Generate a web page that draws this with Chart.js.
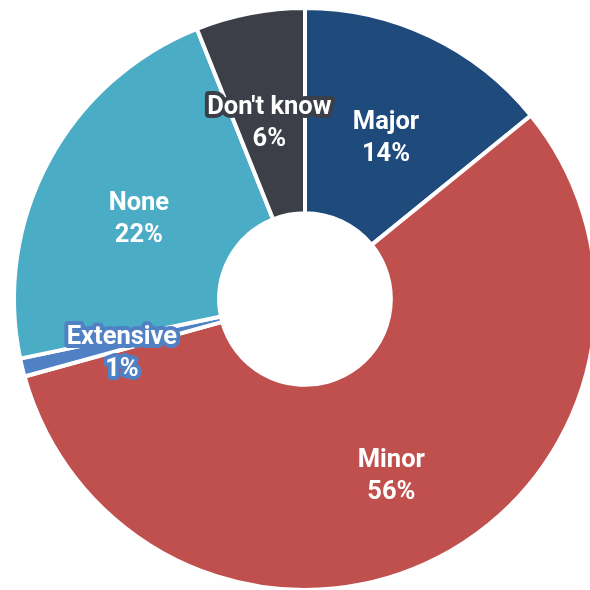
<!DOCTYPE html>
<html>
<head>
<meta charset="utf-8">
<script src="https://cdn.jsdelivr.net/npm/chart.js@4/dist/chart.umd.min.js"></script>
<style>
  html, body { margin: 0; padding: 0; background: #ffffff; overflow: hidden; width: 590px; height: 590px; }
  #wrap { position: absolute; left: 0; top: 0; width: 611px; height: 598px; }
</style>
</head>
<body>
<div id="wrap"><canvas id="chart" width="611" height="598"></canvas></div>
<script>
// Extent of damage, share of respondents (%)
const categories = ['Major', 'Minor', 'Extensive', 'None', "Don't know"];
const shares = [14, 56, 1, 22, 6];
const sliceColors = ['#1f4a7c', '#c0504d', '#4f81c4', '#4bacc6', '#3c3f48'];

// Two-line labels (name + percent) in white with an outline in the slice colour
const sliceLabels = {
  id: 'sliceLabels',
  afterDatasetsDraw(chart) {
    const ctx = chart.ctx;
    const meta = chart.getDatasetMeta(0);
    const ds = chart.data.datasets[0];
    ctx.save();
    ctx.font = 'bold 25.5px Roboto, "DejaVu Sans", sans-serif';
    ctx.textAlign = 'center';
    ctx.textBaseline = 'middle';
    ctx.lineJoin = 'round';
    ctx.lineWidth = 8;
    meta.data.forEach((arc, i) => {
      const p = arc.tooltipPosition(true);
      const lines = [chart.data.labels[i], ds.data[i] + '%'];
      const ys = [p.y - 6, p.y + 26];
      ctx.strokeStyle = ds.backgroundColor[i];
      lines.forEach((t, k) => ctx.strokeText(t, p.x, ys[k]));
      ctx.fillStyle = '#ffffff';
      lines.forEach((t, k) => ctx.fillText(t, p.x, ys[k]));
    });
    ctx.restore();
  }
};

new Chart(document.getElementById('chart'), {
  type: 'doughnut',
  data: {
    labels: categories,
    datasets: [{
      data: shares,
      backgroundColor: sliceColors,
      borderColor: '#ffffff',
      borderWidth: 4,
      hoverOffset: 0
    }]
  },
  options: {
    responsive: false,
    animation: false,
    devicePixelRatio: 1,
    cutout: '29.5%',
    layout: { padding: { left: 12, right: 13, top: 6, bottom: 6 } },
    plugins: {
      legend: { display: false },
      tooltip: { enabled: false }
    }
  },
  plugins: [sliceLabels]
});
</script>
</body>
</html>
